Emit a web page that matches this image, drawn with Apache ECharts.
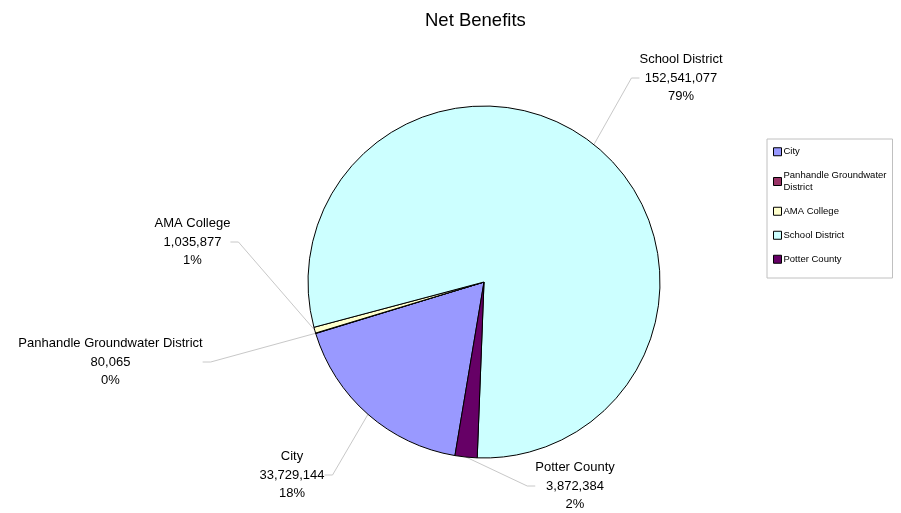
<!DOCTYPE html>
<html>
<head>
<meta charset="utf-8">
<script src="https://cdn.jsdelivr.net/npm/echarts@6/dist/echarts.min.js"></script>
<style>html,body{margin:0;padding:0;background:#fff}#c{width:901px;height:513px}</style>
</head>
<body>
<div id="c"></div>
<script>
const categories = ["City", "Panhandle Groundwater District", "AMA College", "School District", "Potter County"];
const values = [33729144, 80065, 1035877, 152541077, 3872384];
const percentLabels = ["18%", "0%", "1%", "79%", "2%"];
const colors = ["#9999FF", "#993366", "#FFFFCC", "#CCFFFF", "#660066"];

// label anchor positions (layout only)
const labelPos = [[292, 475], [110.5, 362], [192.5, 242], [681, 78], [575, 486]];

const chart = echarts.init(document.getElementById('c'), null, {renderer: 'canvas'});
const font = 'Liberation Sans, Arial, sans-serif';
chart.setOption({
  animation: false,
  backgroundColor: '#fff',
  title: {
    text: 'Net Benefits', left: 420, top: 6,
    textStyle: {fontFamily: font, fontSize: 18.5, fontWeight: 'normal', color: '#000'}
  },
  legend: {
    orient: 'vertical', left: 767, top: 139,
    padding: [7, 6, 13, 6],
    icon: 'rect',
    itemWidth: 8, itemHeight: 8, itemGap: 12.5,
    borderColor: '#c0c0c0', borderWidth: 1,
    data: categories,
    formatter: n => n === 'Panhandle Groundwater District' ? 'Panhandle Groundwater\nDistrict' : n,
    textStyle: {fontFamily: font, fontSize: 9.5, color: '#000', lineHeight: 11.5, padding: [0,0,0,-3]},
    itemStyle: {borderColor: '#000', borderWidth: 1}
  },
  series: [{
    type: 'pie',
    center: [484, 282], radius: 176,
    startAngle: 260.5, clockwise: true,
    avoidLabelOverlap: false,
    data: categories.map((c, i) => ({name: c, value: values[i], itemStyle: {color: colors[i]}})),
    itemStyle: {borderColor: '#000', borderWidth: 1},
    label: {
      show: true, position: 'outside',
      formatter: p => p.name + '\n' + values[p.dataIndex].toLocaleString('en-US') + '\n' + percentLabels[p.dataIndex],
      fontFamily: font, fontSize: 13, lineHeight: 18.5, color: '#000', align: 'center'
    },
    labelLine: {show: true, length: 20, length2: 8, lineStyle: {color: '#c8c8c8', width: 1}},
    labelLayout: p => ({x: labelPos[p.dataIndex][0], y: labelPos[p.dataIndex][1], align: 'center', verticalAlign: 'middle'}),
    emphasis: {disabled: true}
  }]
});
</script>
</body>
</html>
